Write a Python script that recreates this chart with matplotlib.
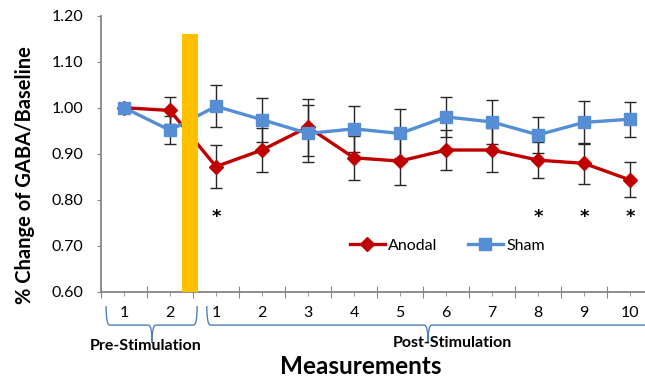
import numpy as np
import matplotlib.pyplot as plt
from matplotlib.path import Path
from matplotlib.patches import PathPatch
from matplotlib.lines import Line2D
from matplotlib.transforms import blended_transform_factory

plt.rcParams['font.family'] = ['Lato', 'DejaVu Sans']

# measurement labels: 2 pre-stimulation, 10 post-stimulation
tick_labels = ['1', '2', '1', '2', '3', '4', '5', '6', '7', '8', '9', '10']
anodal = [1.000, 0.994, 0.872, 0.908, 0.958, 0.891, 0.884, 0.908, 0.908, 0.886, 0.879, 0.843]
anodal_err = [0.0, 0.030, 0.047, 0.048, 0.062, 0.048, 0.052, 0.043, 0.047, 0.039, 0.045, 0.038]
sham = [1.000, 0.951, 1.003, 0.974, 0.944, 0.954, 0.944, 0.980, 0.969, 0.941, 0.968, 0.975]
sham_err = [0.0, 0.030, 0.046, 0.048, 0.062, 0.050, 0.054, 0.044, 0.048, 0.039, 0.046, 0.038]
signif_idx = [2, 9, 10, 11]   # post 1, 8, 9, 10
stim_pos = 2.43               # stimulation marker between pre 2 and post 1
stim_top = 1.16

x = np.arange(1, len(tick_labels) + 1)

fig = plt.figure(figsize=(6.45, 3.8), dpi=100)
ax = fig.add_axes([101/645, 1 - 291.7/380, 552/645, 276/380])

red = '#C00000'
blue = '#558ED5'

ax.errorbar(x, anodal, yerr=anodal_err, color=red, lw=2.4, marker='D', ms=7,
            ecolor='#262626', elinewidth=1, capsize=4, capthick=1, zorder=3)
ax.errorbar(x, sham, yerr=sham_err, color=blue, lw=2.4, marker='s', ms=8.5,
            ecolor='#262626', elinewidth=1, capsize=4, capthick=1, zorder=3)

# stimulation bar
ax.bar(stim_pos, stim_top - 0.6, bottom=0.6, width=0.36, color='#FFC000', zorder=5)

for i in signif_idx:
    ax.text(x[i], 0.763, '*', ha='center', va='center', fontsize=13,
            fontweight='bold', family='DejaVu Sans')

ax.set_xlim(0.5, len(x) + 0.5)
ax.set_ylim(0.6, 1.2)
yt = np.arange(0.6, 1.21, 0.1)
ax.set_yticks(yt)
ax.set_yticklabels([f'{v:.2f}' for v in yt], fontsize=11.5)

ax.set_xticks(np.arange(0.5, len(x) + 1, 1.0))
ax.set_xticklabels([])
ax.set_xticks(x, minor=True)
ax.set_xticklabels(tick_labels, minor=True, fontsize=11.5)
ax.tick_params(axis='x', which='major', direction='inout', length=8, color='#868686')
ax.tick_params(axis='x', which='minor', direction='out', length=3, color='#868686', pad=7)
ax.tick_params(axis='y', direction='out', length=3, color='#868686', pad=10)

for s in ['top', 'right']:
    ax.spines[s].set_visible(False)
for s in ['left', 'bottom']:
    ax.spines[s].set_color('#868686')
    ax.spines[s].set_linewidth(1.3)

ax.set_ylabel('% Change of GABA/Baseline', fontsize=14.5, fontweight='bold')
ax.yaxis.set_label_coords(-0.1196, 0.423)

handles = [Line2D([], [], color=red, lw=2.4, marker='D', ms=7),
           Line2D([], [], color=blue, lw=2.4, marker='s', ms=8.5)]
ax.legend(handles, ['Anodal', 'Sham'], loc='center', bbox_to_anchor=(0.627, 0.166),
          ncol=2, frameon=False, fontsize=11.5, handlelength=2.2,
          columnspacing=1.9, handletextpad=0.2)

# curly brackets under the axis
trans = blended_transform_factory(ax.transData, ax.transAxes)


def brace(x0, x1, xc, ytop=-0.052, ymid=-0.121, ytip=-0.186, dx=0.08):
    verts = [(x0, ytop), (x0, ymid), (x0 + dx, ymid),
             (xc - dx, ymid), (xc, ymid), (xc, ytip),
             (xc, ymid), (xc + dx, ymid),
             (x1 - dx, ymid), (x1, ymid), (x1, ytop)]
    codes = [Path.MOVETO, Path.CURVE3, Path.CURVE3,
             Path.LINETO, Path.CURVE3, Path.CURVE3,
             Path.CURVE3, Path.CURVE3,
             Path.LINETO, Path.CURVE3, Path.CURVE3]
    ax.add_patch(PathPatch(Path(verts, codes), transform=trans, fill=False,
                           edgecolor='#4F81BD', lw=1, clip_on=False))


brace(0.61, 2.59, 1.61)
brace(2.80, 12.8, 7.61)

ax.text(1.46, -0.197, 'Pre-Stimulation', transform=trans, ha='center', va='center',
        fontsize=11.5, fontweight='bold')
ax.text(8.13, -0.186, 'Post-Stimulation', transform=trans, ha='center', va='center',
        fontsize=11.5, fontweight='bold')
fig.text(361/645, 1 - 366/380, 'Measurements', ha='center', va='center',
         fontsize=17.5, fontweight='bold')

fig.savefig('out.png', dpi=100)
